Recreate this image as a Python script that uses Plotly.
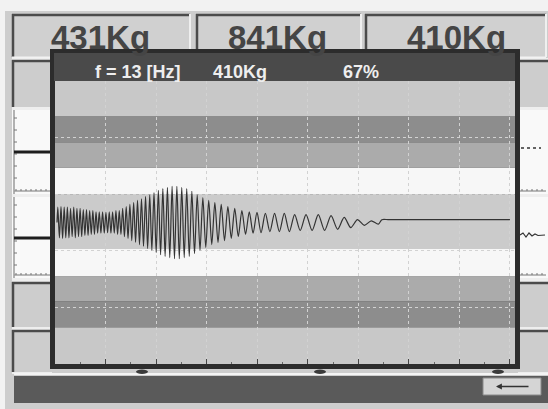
import plotly.graph_objects as go

W, H = 548, 409

# ---------------- data ----------------
top_labels = ["431Kg", "841Kg", "410Kg"]
title_freq = "f = 13 [Hz]"
title_weight = "410Kg"
title_pct = "67%"

# oscillation: one entry per cycle (period in ms, amplitude in divisions)
signal_start_ms = 4
cycle_period_ms = [
    6.3, 6.3, 6.3, 6.3, 6.3, 6.3, 6.3, 6.3, 6.3, 6.3, 6.3, 6.3, 6.3,
    6.6, 6.6, 6.6, 6.6, 6.6, 6.6, 6.6,
    7.0, 7.2, 7.4, 7.6, 7.8, 8.0, 8.2, 8.4, 8.6, 8.8,
    9.0, 9.2, 9.4, 9.6, 9.8, 10.0,
    10.5, 11.0, 11.5, 12.0, 12.5, 13.0, 13.5, 14.0, 14.5, 15.0,
    16.0, 18.0, 19.0, 20.0, 22.0,
    24.0, 25.0, 26.0, 26.0, 27.0, 28.0,
]
cycle_amp = [
    0.27, 0.28, 0.27, 0.27, 0.25, 0.27, 0.25, 0.25, 0.23, 0.23, 0.21, 0.21, 0.19,
    0.19, 0.19, 0.18, 0.19, 0.19, 0.21, 0.21,
    0.25, 0.28, 0.32, 0.35, 0.39, 0.42, 0.46, 0.49, 0.53, 0.57,
    0.60, 0.62, 0.64, 0.64, 0.62, 0.60,
    0.55, 0.49, 0.44, 0.39, 0.35, 0.32, 0.28, 0.25, 0.21, 0.19,
    0.18, 0.16, 0.16, 0.16, 0.14,
    0.14, 0.14, 0.12, 0.09, 0.05, 0.03,
]
flat_level = 0.05
signal_end_ms = 900

# horizontal colour bands of the scope (y in divisions)
band_lo = [-2.5, -1.85, -1.39, -0.95, -0.47, 0.50, 0.97, 1.42, 1.88]
band_hi = [-1.85, -1.39, -0.95, -0.47, 0.50, 0.97, 1.42, 1.88, 2.5]
band_col = ["#c8c8c8", "#8d8d8d", "#ababab", "#f7f7f7", "#cbcbcb",
            "#f7f7f7", "#ababab", "#8d8d8d", "#c8c8c8"]

# ---------------- build signal polyline from the per-cycle readings ----------------
sx, sy = [signal_start_ms], [0.0]
t = signal_start_ms
for p, a in zip(cycle_period_ms, cycle_amp):
    sx += [t + p * 0.25, t + p * 0.75]
    sy += [a, -a]
    t += p
sx += [t, t + 15, signal_end_ms]
sy += [flat_level, flat_level, flat_level]

fig = go.Figure()
fig.add_trace(go.Scatter(x=sx, y=sy, mode="lines",
                         line=dict(color="#333333", width=1.2, shape="spline", smoothing=0.8),
                         hoverinfo="skip"))

# ---------------- helpers for UI chrome (pixel -> paper) ----------------
def px(x):
    return x / W

def py(y):
    return 1 - y / H

shapes = []

def rect(x0, y0, x1, y1, fill, layer="below", lc=None, lw=0):
    shapes.append(dict(type="rect", xref="paper", yref="paper",
                       x0=px(x0), x1=px(x1), y0=py(y1), y1=py(y0),
                       fillcolor=fill, line=dict(width=lw, color=lc or fill), layer=layer))

def hline(x0, x1, y, color, w, layer="below", dash="solid"):
    shapes.append(dict(type="line", xref="paper", yref="paper",
                       x0=px(x0), x1=px(x1), y0=py(y), y1=py(y),
                       line=dict(color=color, width=w, dash=dash), layer=layer))

def vline(x, y0, y1, color, w, layer="below", dash="solid"):
    shapes.append(dict(type="line", xref="paper", yref="paper",
                       x0=px(x), x1=px(x), y0=py(y0), y1=py(y1),
                       line=dict(color=color, width=w, dash=dash), layer=layer))

def path(pts, color, w, layer="below"):
    d = "M" + " L".join(f"{px(a):.5f},{py(b):.5f}" for a, b in pts)
    shapes.append(dict(type="path", xref="paper", yref="paper", path=d,
                       line=dict(color=color, width=w), layer=layer))

DARK = "#4b4b4b"
# main panel
rect(5, 11, 548, 409, "#cdcdcd")

# top row boxes
for x0, x1 in [(12, 190), (196, 361), (365, 546)]:
    rect(x0, 14, x1, 57, "#d0d0d0")
    hline(x0, x1, 15, DARK, 2.5)
    vline(x0 + 1, 14, 57, DARK, 2.5)
    hline(x0, x1, 57.5, "#f2f2f2", 2)
    vline(x1, 14, 57, "#efefef", 2)

# side columns
for cx0, cx1, left in [(12, 52, True), (518, 548, False)]:
    rect(cx0, 58, cx1, 374, "#eeeeee")
    for y0, y1, kind in [(60, 107, "g"), (110, 194, "w"), (197, 278, "w"), (282, 327, "g"), (330, 372, "g")]:
        if kind == "g":
            rect(cx0, y0, cx1, y1, "#cdcdcd")
            hline(cx0, cx1, y0 + 1, DARK, 2.5)
            if left:
                vline(cx0 + 1, y0, y1, DARK, 2.5)
        else:
            rect(cx0, y0, cx1, y1, "#f9f9f9")
            hline(cx0 + 2, cx1 - 2, y1 - 3, "#777777", 1)
            for k in range(cx0 + 4, cx1 - 2, 5):
                vline(k, y1 - 3, y1 - 5, "#777777", 1)
            if left:
                vline(cx0 + 2, y0, y1, "#9a9a9a", 1.5)
                for k in range(y0 + 8, y1 - 4, 12):
                    hline(cx0 + 2, cx0 + 5, k, "#777777", 1)

# small traces in the side windows
hline(14, 52, 152, "#1e1e1e", 3)
hline(14, 52, 238, "#1e1e1e", 3)
hline(521, 541, 148, "#333333", 1.5, dash="dot")
path([(520, 235), (523, 233), (526, 237), (529, 233), (532, 236), (535, 234), (538, 235.5), (545, 235)], "#333333", 1.2)

# bottom dark bar
hline(14, 548, 374, "#f4f4f4", 2)
rect(14, 376, 548, 403, "#5a5a5a")
# arrow button
rect(483, 378, 541, 395, "#d5d5d5", lc="#8a8a8a", lw=1)

# popup window
rect(50, 49, 520, 369, "#2c2c2c")
rect(54, 53, 515, 81, "#4a4a4a")

# knobs under popup
for kx in [142, 320, 498]:
    shapes.append(dict(type="circle", xref="paper", yref="paper",
                       x0=px(kx - 6), x1=px(kx + 6), y0=py(374), y1=py(369.5),
                       fillcolor="#3a3a3a", line=dict(width=0), layer="above"))

# scope colour bands (data coordinates)
for lo, hi, c in zip(band_lo, band_hi, band_col):
    shapes.append(dict(type="rect", xref="x domain", yref="y", x0=0, x1=1, y0=lo, y1=hi,
                       fillcolor=c, line=dict(width=0), layer="below"))

annotations = []
FONT = "Liberation Sans, Arial, sans-serif"
for lab, cx in zip(top_labels, [100, 277, 456]):
    annotations.append(dict(text=f"<b>{lab}</b>", x=px(cx), y=py(37), xref="paper", yref="paper",
                            showarrow=False, xanchor="center", yanchor="middle",
                            font=dict(family=FONT, size=33, color="#454545")))
for lab, cx in zip([title_freq, title_weight, title_pct], [138, 240, 361]):
    annotations.append(dict(text=f"<b>{lab}</b>", x=px(cx), y=py(72), xref="paper", yref="paper",
                            showarrow=False, xanchor="center", yanchor="middle",
                            font=dict(family=FONT, size=18, color="#eeeeee")))
# back arrow on the button
annotations.append(dict(x=px(496), y=py(386.5), ax=34, ay=0,
                        xref="paper", yref="paper", axref="pixel", ayref="pixel",
                        text="", showarrow=True, arrowhead=2, arrowsize=0.9, arrowwidth=1.3,
                        arrowcolor="#333333"))

GRID = "#d2d2d2"
fig.update_layout(
    width=W, height=H, margin=dict(l=0, r=0, t=0, b=0),
    paper_bgcolor="#f2f2f2", plot_bgcolor="rgba(0,0,0,0)",
    showlegend=False, shapes=shapes, annotations=annotations,
    xaxis=dict(domain=[px(55), px(515)], range=[0, 910], tick0=0, dtick=100,
               showgrid=True, gridcolor=GRID, griddash="dot", gridwidth=1,
               zeroline=False, showticklabels=False, showline=False,
               ticks="inside", ticklen=5, tickcolor="#444444",
               minor=dict(ticks="inside", ticklen=2, dtick=50, tickcolor="#666666", showgrid=False)),
    yaxis=dict(domain=[py(364), py(81)], range=[-2.5, 2.5], tick0=0.5, dtick=1,
               showgrid=True, gridcolor=GRID, griddash="dot", gridwidth=1,
               zeroline=False, showticklabels=False, showline=False, ticks=""),
)

fig.write_html("out.html", config={"displayModeBar": False},
               post_script="document.body.style.margin='0';document.body.style.overflow='hidden';")
